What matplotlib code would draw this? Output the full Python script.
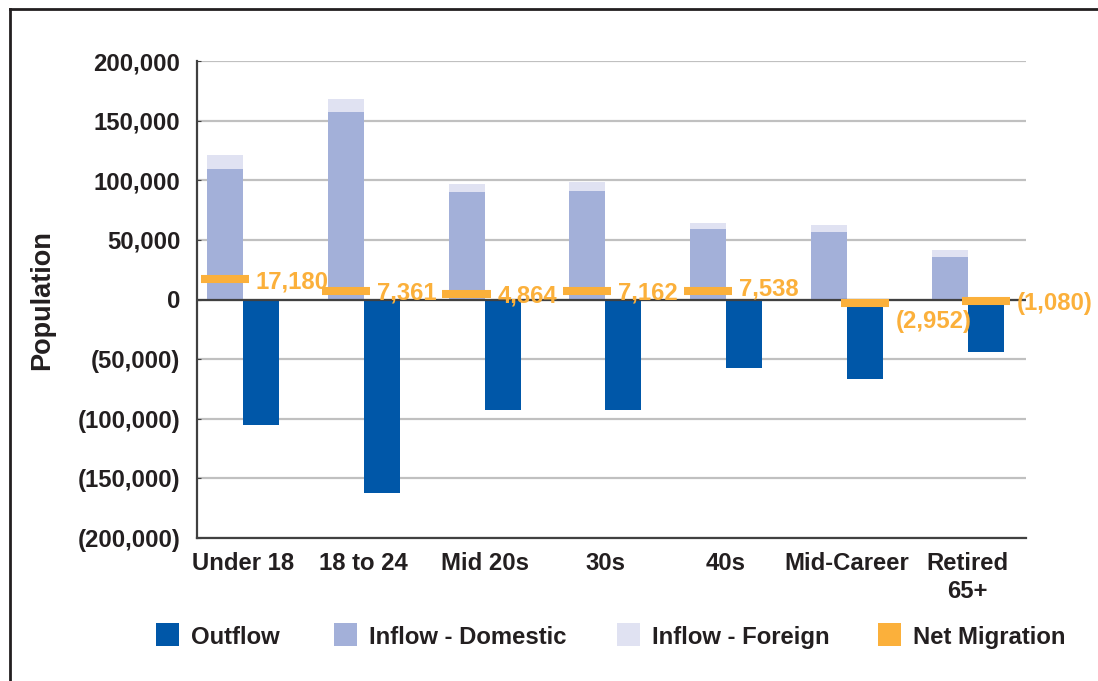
import matplotlib
matplotlib.use("Agg")
import matplotlib.pyplot as plt
from matplotlib.patches import Rectangle
from matplotlib.lines import Line2D
import numpy as np

categories = ["Under 18", "18 to 24", "Mid 20s", "30s", "40s", "Mid-Career", "Retired\n65+"]
outflow = [-105200, -162200, -92600, -92600, -57400, -66600, -44000]
inflow_domestic = [109400, 157200, 90100, 90900, 59100, 56600, 35600]
inflow_foreign = [11700, 10900, 6700, 7800, 5000, 5900, 5900]
net_migration = [17180, 7361, 4864, 7162, 7538, -2952, -1080]
y_ticks = [200000, 150000, 100000, 50000, 0, -50000, -100000, -150000, -200000]
y_tick_labels = ["200,000", "150,000", "100,000", "50,000", "0", "(50,000)",
                 "(100,000)", "(150,000)", "(200,000)"]
legend_labels = ["Outflow", "Inflow - Domestic", "Inflow - Foreign", "Net Migration"]

C_OUT = "#0057A8"
C_DOM = "#A3B0D9"
C_FOR = "#E0E2F2"
C_NET = "#FBB03B"
C_TXT = "#231F20"

plt.rcParams['font.family'] = ['Liberation Sans', 'DejaVu Sans']
FS = 17.2

W, H = 1098, 681
fig = plt.figure(figsize=(W / 100, H / 100), dpi=100)
ax = fig.add_axes([197 / W, 1 - 538 / H, (1026 - 197) / W, (538 - 61) / H])

x = np.arange(len(categories))
bw = 0.298
ax.bar(x - bw / 2, inflow_domestic, bw, color=C_DOM, zorder=3, linewidth=0)
ax.bar(x - bw / 2, inflow_foreign, bw, bottom=inflow_domestic, color=C_FOR, zorder=3, linewidth=0)
ax.bar(x + bw / 2, outflow, bw, color=C_OUT, zorder=3, linewidth=0)

ax.axhline(0, color="#404040", lw=1.6, zorder=4)

hw = 0.199
for i, v in enumerate(net_migration):
    cx = x[i] - bw / 2 if v >= 0 else x[i] + bw / 2
    ax.hlines(v, cx - hw, cx + hw, color=C_NET, lw=5.8, zorder=5, capstyle='butt')
    lab = f"{abs(v):,}" if v >= 0 else f"({abs(v):,})"
    dy = 0
    if i == 4:
        dy = 4
    if i == 5:
        dy = -16
    ax.annotate(lab, xy=(cx + hw, v), xytext=(5, dy * 0.72), textcoords='offset points',
                ha='left', va='center_baseline', fontsize=FS, fontweight='bold',
                color=C_NET, zorder=6)

ax.set_xlim(-0.381, 6.484)
ax.set_ylim(-200000, 200000)
ax.set_yticks(y_ticks)
ax.set_yticklabels(y_tick_labels)
ax.set_xticks(x)
ax.set_xticklabels(categories, linespacing=1.3)
for lbl in ax.get_yticklabels() + ax.get_xticklabels():
    lbl.set_fontweight('bold')
    lbl.set_fontsize(FS)
    lbl.set_color(C_TXT)
ax.tick_params(axis='y', length=3, direction='in', color="#404040", pad=12)
ax.tick_params(axis='x', length=0, pad=10)
ax.grid(axis='y', color="#C0C0C0", lw=1.6, zorder=0)
for s in ['top', 'right']:
    ax.spines[s].set_visible(False)
for s in ['left', 'bottom']:
    ax.spines[s].set_color("#404040")
    ax.spines[s].set_linewidth(1.6)
ax.set_ylabel("Population", fontsize=19.5, fontweight='bold', color=C_TXT)
ax.yaxis.set_label_coords(55 / W, 1 - 300 / H, transform=fig.transFigure)

# legend (manual)
colors = [C_OUT, C_DOM, C_FOR, C_NET]
patch_x = [156, 334, 617, 878]
for lx, c, t in zip(patch_x, colors, legend_labels):
    fig.patches.append(Rectangle((lx / W, 1 - 646 / H), 23 / W, 23 / H, transform=fig.transFigure,
                                 facecolor=c, edgecolor='none'))
    fig.text((lx + 35) / W, 1 - 635 / H, t, fontsize=FS, fontweight='bold', color=C_TXT,
             ha='left', va='center_baseline')

# outer border
fig.add_artist(Line2D([9.5 / W, 9.5 / W], [0, 1 - 8.5 / H], transform=fig.transFigure,
                      color=C_TXT, lw=2.0, solid_capstyle='projecting'))
fig.add_artist(Line2D([9.5 / W, 1], [1 - 8.5 / H, 1 - 8.5 / H], transform=fig.transFigure,
                      color=C_TXT, lw=2.0, solid_capstyle='projecting'))

fig.savefig("out.png", dpi=100)
